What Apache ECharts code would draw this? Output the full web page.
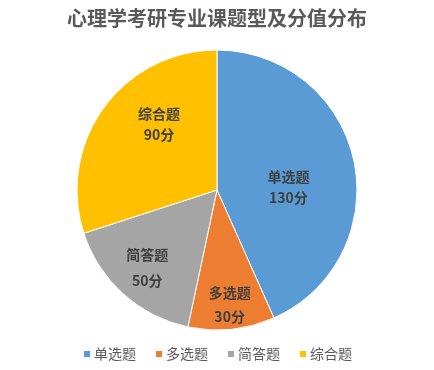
<!DOCTYPE html>
<html>
<head>
<meta charset="utf-8">
<script src="https://cdn.jsdelivr.net/npm/echarts@6/dist/echarts.min.js"></script>
<style>
html,body{margin:0;padding:0;background:#fff;}
#main{width:434px;height:370px;}
</style>
</head>
<body>
<div id="main"></div>
<script>
var titleText = '心理学考研专业课题型及分值分布';
var categories = ['单选题', '多选题', '简答题', '综合题'];
var values = [130, 30, 50, 90];
var unit = '分';

var colors = ['#5B9BD5', '#ED7D31', '#A5A5A5', '#FFC000'];
var labelOffsets = [[0, 12], [5, 42], [-21, 23], [1, -23]];
var labelLineHeights = [21, 24, 26, 21];

var chart = echarts.init(document.getElementById('main'), null, {renderer: 'canvas'});
var font = '"Noto Sans CJK SC", sans-serif';
var data = categories.map(function (c, i) {
  return {
    name: c,
    value: values[i],
    itemStyle: {color: colors[i]},
    label: {offset: labelOffsets[i], lineHeight: labelLineHeights[i]}
  };
});

chart.setOption({
  backgroundColor: '#ffffff',
  animation: false,
  title: {
    text: titleText,
    left: 'center',
    top: 3,
    textStyle: {fontFamily: font, fontSize: 20, fontWeight: 'bold', color: '#595959'}
  },
  legend: {
    data: categories,
    bottom: 4,
    left: 'center',
    itemWidth: 8,
    itemHeight: 8,
    itemGap: 18,
    icon: 'rect',
    textStyle: {fontFamily: font, fontSize: 14, color: '#595959', padding: [0, 0, 0, -2]}
  },
  series: [{
    type: 'pie',
    center: ['50%', 190],
    radius: 140,
    startAngle: 90,
    clockwise: true,
    itemStyle: {borderColor: '#ffffff', borderWidth: 1},
    label: {
      show: true,
      position: 'inside',
      fontFamily: font,
      fontSize: 14,
      fontWeight: 'bold',
      color: '#404040',
      formatter: function (p) { return p.name + '\n' + p.value + unit; }
    },
    labelLine: {show: false},
    emphasis: {disabled: true},
    data: data
  }]
});
</script>
</body>
</html>
